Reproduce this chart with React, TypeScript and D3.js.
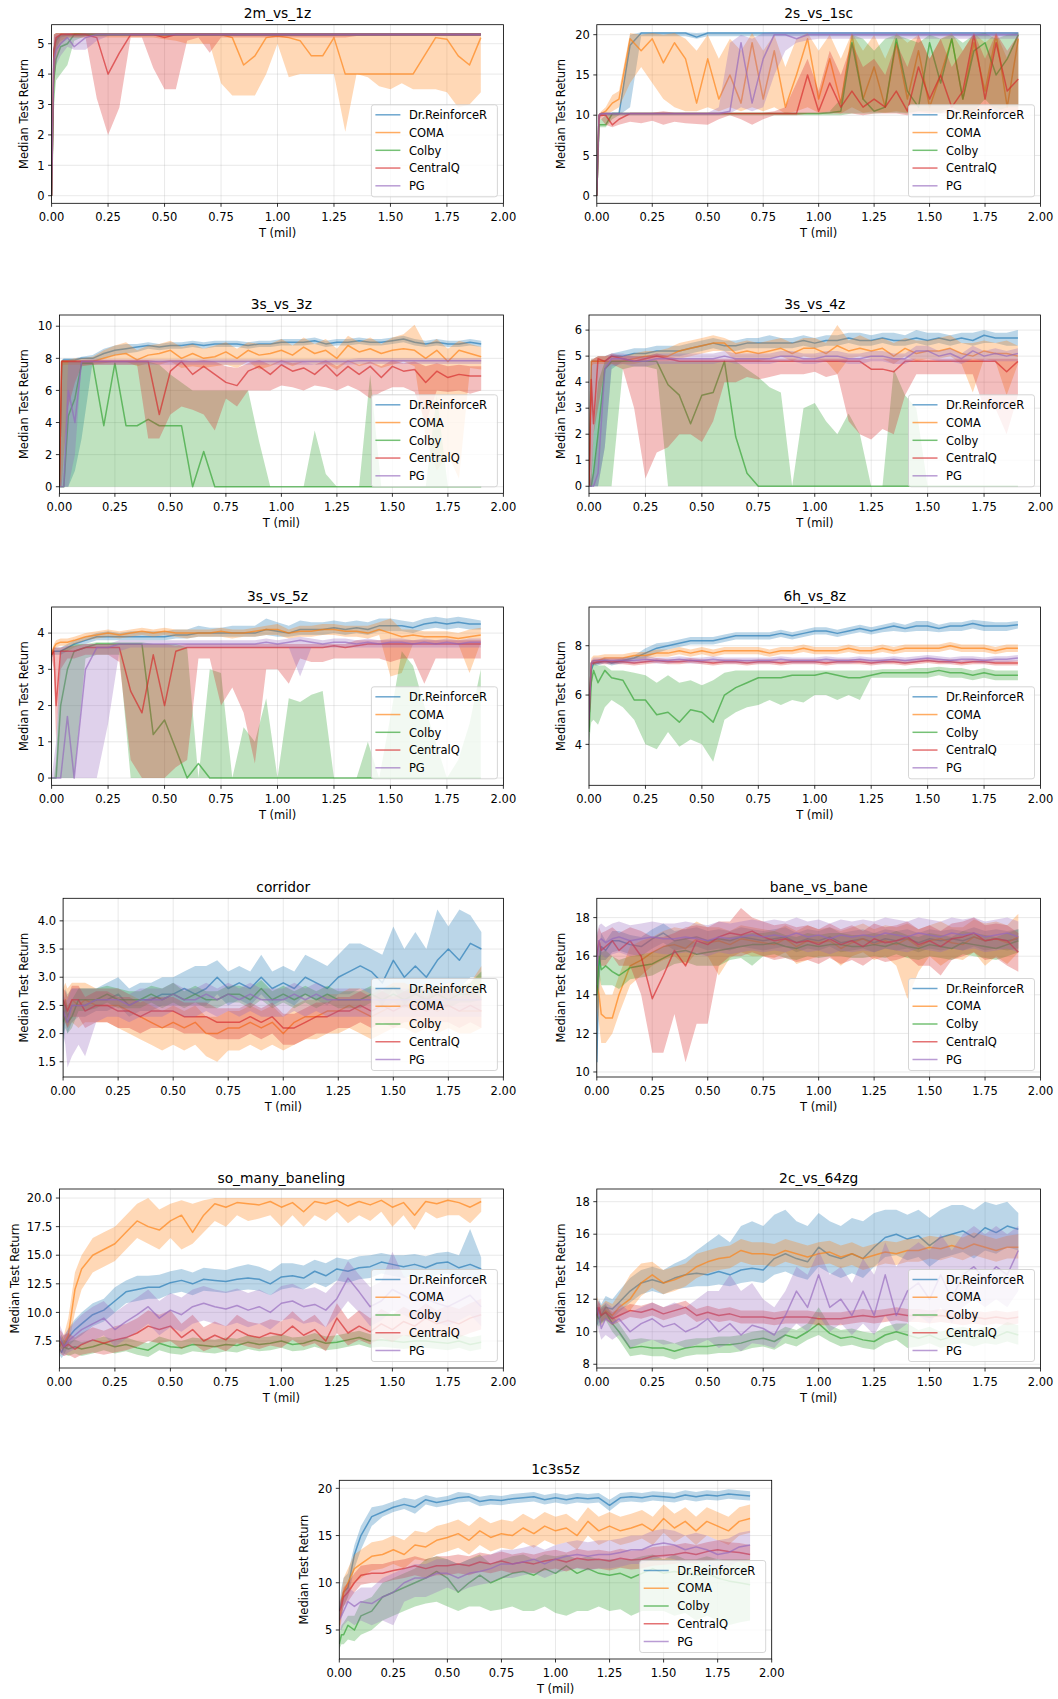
import React from 'react';
import * as d3 from 'd3';

// training steps (millions) at which medians / quantile bands were read
const T = [0, 0.01, 0.02, 0.04, 0.07, 0.1,
  0.15, 0.2, 0.25, 0.3, 0.35, 0.4, 0.45, 0.5, 0.55, 0.6, 0.65, 0.7,
  0.75, 0.8, 0.85, 0.9, 0.95, 1.0, 1.05, 1.1, 1.15, 1.2, 1.25, 1.3,
  1.35, 1.4, 1.45, 1.5, 1.55, 1.6, 1.65, 1.7, 1.75, 1.8, 1.85, 1.9];

const SERIES = ['Dr.ReinforceR', 'COMA', 'Colby', 'CentralQ', 'PG'];
const COLORS = ['#1f77b4', '#ff7f0e', '#2ca02c', '#d62728', '#9467bd'];
const X_TICKS = [0, 0.25, 0.5, 0.75, 1, 1.25, 1.5, 1.75, 2];

// ---------- 2m_vs_1z ----------
const P1_YTICKS = [0, 1, 2, 3, 4, 5];
const P1_MED = [
  [0, 4.8, 5.1, 5.3, 5.3, 5.3,
    5.3, 5.3, 5.3, 5.3, 5.3, 5.3, 5.3, 5.3, 5.3, 5.3, 5.3, 5.3,
    5.3, 5.3, 5.3, 5.3, 5.3, 5.3, 5.3, 5.3, 5.3, 5.3, 5.3, 5.3,
    5.3, 5.3, 5.3, 5.3, 5.3, 5.3, 5.3, 5.3, 5.3, 5.3, 5.3, 5.3],
  [0, 4.5, 5.2, 5.3, 5.3, 5.3,
    5.3, 5.3, 5.3, 5.3, 5.3, 5.3, 5.3, 5.25, 5.3, 5.3, 5.3, 5.3,
    5.3, 5.2, 4.3, 4.6, 5.2, 5.25, 5.2, 5.1, 4.6, 4.6, 5.2, 4.0,
    4.0, 4.0, 4.0, 4.0, 4.0, 4.0, 4.6, 5.2, 5.15, 4.6, 4.3, 5.2],
  [0, 3.8, 4.5, 4.9, 5.0, 5.3,
    5.3, 5.3, 5.3, 5.3, 5.3, 5.3, 5.3, 5.3, 5.3, 5.3, 5.3, 5.3,
    5.3, 5.3, 5.3, 5.3, 5.3, 5.3, 5.3, 5.3, 5.3, 5.3, 5.3, 5.3,
    5.3, 5.3, 5.3, 5.3, 5.3, 5.3, 5.3, 5.3, 5.3, 5.3, 5.3, 5.3],
  [0, 4.8, 5.2, 5.3, 5.3, 5.3,
    5.3, 5.2, 4.0, 4.7, 5.3, 5.3, 5.3, 5.2, 5.3, 5.3, 5.3, 5.3,
    5.3, 5.3, 5.3, 5.3, 5.3, 5.3, 5.3, 5.3, 5.3, 5.3, 5.3, 5.3,
    5.3, 5.3, 5.3, 5.3, 5.3, 5.3, 5.3, 5.3, 5.3, 5.3, 5.3, 5.3],
  [0, 4.5, 4.8, 5.0, 5.2, 4.9,
    5.2, 5.3, 5.3, 5.3, 5.3, 5.3, 5.3, 5.3, 5.3, 5.3, 5.3, 5.3,
    5.3, 5.3, 5.3, 5.3, 5.3, 5.3, 5.3, 5.3, 5.3, 5.3, 5.3, 5.3,
    5.3, 5.3, 5.3, 5.3, 5.3, 5.3, 5.3, 5.3, 5.3, 5.3, 5.3, 5.3],
];
const P1_LO = [
  [0, 3.8, 4.8, 5.2, 5.25, 5.25,
    5.25, 5.25, 5.25, 5.25, 5.25, 5.25, 5.25, 5.25, 5.25, 5.25, 5.25, 5.25,
    5.25, 5.25, 5.25, 5.25, 5.25, 5.25, 5.25, 5.25, 5.25, 5.25, 5.25, 5.25,
    5.25, 5.25, 5.25, 5.25, 5.25, 5.25, 5.25, 5.25, 5.25, 5.25, 5.25, 5.25],
  [0, 3.8, 4.9, 5.1, 5.2, 5.2,
    5.2, 5.2, 5.2, 5.2, 5.2, 5.2, 5.2, 5.15, 5.1, 5.0, 5.0, 5.0,
    3.7, 3.3, 3.3, 3.3, 4.0, 5.0, 3.9, 4.0, 4.0, 4.0, 4.0, 2.1,
    4.0, 3.9, 3.6, 3.5, 3.7, 3.5, 3.5, 3.5, 3.4, 2.9, 3.0, 3.4],
  [0, 3.0, 3.8, 4.0, 4.3, 5.1,
    5.25, 5.25, 5.25, 5.25, 5.25, 5.25, 5.25, 5.25, 5.25, 5.25, 5.25, 5.25,
    5.25, 5.25, 5.25, 5.25, 5.25, 5.25, 5.25, 5.25, 5.25, 5.25, 5.25, 5.25,
    5.25, 5.25, 5.25, 5.25, 5.25, 5.25, 5.25, 5.25, 5.25, 5.25, 5.25, 5.25],
  [0, 3.6, 4.5, 5.0, 5.2, 5.2,
    5.2, 3.2, 2.0, 2.9, 5.2, 5.2, 4.2, 3.5, 3.5, 5.1, 5.2, 4.7,
    5.2, 5.2, 5.2, 5.2, 5.2, 5.2, 5.2, 5.2, 5.2, 5.2, 5.2, 5.2,
    5.25, 5.25, 5.25, 5.25, 5.25, 5.25, 5.25, 5.25, 5.25, 5.25, 5.25, 5.25],
  [0, 3.8, 4.3, 4.6, 4.9, 4.8,
    4.8, 5.1, 5.25, 5.25, 5.25, 5.25, 5.25, 5.25, 5.25, 5.25, 5.25, 5.25,
    5.25, 5.25, 5.25, 5.25, 5.25, 5.25, 5.25, 5.25, 5.25, 5.25, 5.25, 5.25,
    5.25, 5.25, 5.25, 5.25, 5.25, 5.25, 5.25, 5.25, 5.25, 5.25, 5.25, 5.25],
];
const P1_HI = [
  [0, 5.3, 5.35, 5.35, 5.35, 5.35,
    5.35, 5.35, 5.35, 5.35, 5.35, 5.35, 5.35, 5.35, 5.35, 5.35, 5.35, 5.35,
    5.35, 5.35, 5.35, 5.35, 5.35, 5.35, 5.35, 5.35, 5.35, 5.35, 5.35, 5.35,
    5.35, 5.35, 5.35, 5.35, 5.35, 5.35, 5.35, 5.35, 5.35, 5.35, 5.35, 5.35],
  [0, 5.3, 5.35, 5.35, 5.35, 5.35,
    5.35, 5.35, 5.35, 5.35, 5.35, 5.35, 5.35, 5.35, 5.35, 5.35, 5.35, 5.35,
    5.35, 5.35, 5.35, 5.35, 5.35, 5.35, 5.35, 5.35, 5.35, 5.35, 5.35, 5.35,
    5.35, 5.35, 5.35, 5.35, 5.35, 5.35, 5.35, 5.35, 5.35, 5.35, 5.35, 5.35],
  [0, 5.0, 5.2, 5.3, 5.3, 5.35,
    5.35, 5.35, 5.35, 5.35, 5.35, 5.35, 5.35, 5.35, 5.35, 5.35, 5.35, 5.35,
    5.35, 5.35, 5.35, 5.35, 5.35, 5.35, 5.35, 5.35, 5.35, 5.35, 5.35, 5.35,
    5.35, 5.35, 5.35, 5.35, 5.35, 5.35, 5.35, 5.35, 5.35, 5.35, 5.35, 5.35],
  [0, 5.3, 5.35, 5.35, 5.35, 5.35,
    5.35, 5.35, 5.35, 5.35, 5.35, 5.35, 5.35, 5.35, 5.35, 5.35, 5.35, 5.35,
    5.35, 5.35, 5.35, 5.35, 5.35, 5.35, 5.35, 5.35, 5.35, 5.35, 5.35, 5.35,
    5.35, 5.35, 5.35, 5.35, 5.35, 5.35, 5.35, 5.35, 5.35, 5.35, 5.35, 5.35],
  [0, 5.2, 5.3, 5.3, 5.35, 5.3,
    5.35, 5.35, 5.35, 5.35, 5.35, 5.35, 5.35, 5.35, 5.35, 5.35, 5.35, 5.35,
    5.35, 5.35, 5.35, 5.35, 5.35, 5.35, 5.35, 5.35, 5.35, 5.35, 5.35, 5.35,
    5.35, 5.35, 5.35, 5.35, 5.35, 5.35, 5.35, 5.35, 5.35, 5.35, 5.35, 5.35],
];

// ---------- 2s_vs_1sc ----------
const P2_YTICKS = [0, 5, 10, 15, 20];
const P2_MED = [
  [0, 10, 10.2, 10.2, 10.2, 10.2,
    18.7, 20.2, 20.2, 20.2, 20.2, 20.2, 19.7, 20.2, 20.2, 20.2, 20.2, 20.2,
    20.2, 20.2, 20.2, 20.2, 20.2, 20.2, 20.2, 20.2, 20.2, 20.2, 20.2, 20.2,
    20.2, 20.2, 20.2, 20.2, 20.2, 20.2, 20.2, 20.2, 20.2, 20.2, 20.2, 20.2],
  [0, 10, 10.2, 10.5, 11.5, 12,
    19.5, 18, 19.5, 16.5, 19, 17, 11.5, 17, 12, 15, 11.5, 19,
    12, 18, 11, 15, 19.5, 12, 17, 11.5, 20, 12, 16, 11,
    19, 12, 18, 11, 15, 19.5, 12, 19, 13, 20, 11, 19.5],
  [0, 8.8, 8.8, 8.8, 10.2, 10.2,
    10.2, 10.2, 10.2, 10.2, 10.2, 10.2, 10.2, 10.2, 10.2, 10.2, 10.2, 10.2,
    10.2, 10.2, 10.2, 10.2, 10.2, 10.2, 10.3, 10.5, 19, 12, 10.5, 11,
    19.5, 13, 11, 19, 14, 19.5, 12, 18, 19, 15, 17, 20],
  [0, 10, 10, 10, 8.8, 9.5,
    10.2, 10.2, 10.2, 10.2, 10.2, 10.2, 10.2, 10.2, 10.2, 10.2, 10.2, 10.2,
    10.2, 10.2, 10.2, 10.2, 15, 10.5, 14, 11, 13, 11, 12, 11,
    13, 10.5, 16, 12, 15, 11, 13, 20, 12, 19, 13, 14.5],
  [0, 10, 10.2, 10.2, 10.2, 10.2,
    10.2, 10.2, 10.2, 10.2, 10.2, 10.2, 10.2, 10.2, 10.2, 10.5, 19, 11.5,
    17, 20, 20, 19.5, 20, 20, 20, 20, 20, 20, 20, 20,
    20, 20, 20, 20, 20, 20, 20, 20, 20, 20, 20, 20],
];
const P2_LO = [
  [0, 9.5, 10, 10, 10, 10,
    11, 19.8, 19.8, 19.8, 19.8, 19.8, 19.5, 19.8, 19.8, 19.8, 19.8, 19.8,
    19.8, 19.8, 19.8, 19.8, 19.8, 19.8, 19.8, 19.8, 19.8, 19.8, 19.8, 19.8,
    19.8, 19.8, 19.8, 19.8, 19.8, 19.8, 19.8, 19.8, 19.8, 19.8, 19.8, 19.8],
  [0, 9.5, 9.8, 10, 10.5, 11,
    14, 16, 14, 12, 11, 10.5, 10.5, 11, 10.5, 11, 10.5, 11,
    10.5, 11, 10.2, 10.5, 11, 10.3, 10.5, 10.2, 11, 10.3, 10.5, 10.3,
    10.5, 10.3, 10.5, 10.2, 10.5, 11, 10.3, 10.5, 10.5, 11, 10.3, 10.5],
  [0, 8.5, 8.5, 8.5, 9.5, 10,
    10, 10, 10, 10, 10, 10, 10, 10, 10, 10, 10, 10,
    10, 10, 10, 10, 10, 10, 10, 10, 10.2, 10.2, 10.2, 10.3,
    10.3, 10.2, 10.5, 10.5, 10.2, 11, 10.3, 10.5, 12, 10.5, 11, 11],
  [0, 9.5, 9.5, 8.8, 8.5, 8.8,
    9.2, 9.0, 9.3, 8.8, 9.2, 9.0, 8.9, 8.8, 9.5, 10.0, 9.5, 8.8,
    9.5, 10, 10, 10, 10.2, 10.2, 10.2, 10.2, 10.2, 10, 10.2, 10.2,
    10.2, 10, 10.2, 10.2, 10.2, 10.2, 10.2, 10.3, 10.5, 10.5, 10.2, 10.5],
  [0, 9.5, 10, 10, 10, 10,
    10, 10, 10, 10, 10, 10, 10, 10, 10, 10.2, 11, 10.5,
    11, 15, 18, 19, 19.3, 19.5, 19.5, 19.5, 19.5, 19.5, 19.5, 19.5,
    19.5, 19.5, 19.5, 19.5, 19.5, 19.5, 19.5, 19.5, 19.5, 19.5, 19.5, 19.5],
];
const P2_HI = [
  [0, 10.2, 10.3, 10.3, 10.3, 10.3,
    20, 20.3, 20.3, 20.3, 20.3, 20.3, 20.2, 20.3, 20.3, 20.3, 20.3, 20.3,
    20.3, 20.3, 20.3, 20.3, 20.3, 20.3, 20.3, 20.3, 20.3, 20.3, 20.3, 20.3,
    20.3, 20.3, 20.3, 20.3, 20.3, 20.3, 20.3, 20.3, 20.3, 20.3, 20.3, 20.3],
  [0, 10.2, 10.5, 11, 12.5, 13,
    20.2, 20, 20.2, 20, 20.2, 19.5, 18, 20, 17, 19.5, 18, 20.2,
    18, 20, 16, 19.5, 20.2, 18, 20, 17, 20.2, 18, 20, 17,
    20.2, 19, 20, 17, 19.5, 20.2, 18, 20.2, 19, 20.2, 17, 20.2],
  [0, 9.5, 9.5, 10, 10.3, 10.3,
    10.3, 10.3, 10.3, 10.3, 10.3, 10.3, 10.3, 10.3, 10.3, 10.3, 10.3, 10.3,
    10.3, 10.3, 10.3, 10.3, 10.3, 10.3, 10.5, 12, 20, 19.5, 18, 19.5,
    20, 19.5, 19, 20, 19.5, 20, 19, 20, 20.2, 19.5, 20, 20.2],
  [0, 10.2, 10.3, 10.3, 10.2, 10.3,
    10.3, 10.3, 10.3, 10.5, 10.3, 10.3, 10.3, 10.3, 10.3, 10.3, 10.3, 10.3,
    10.3, 10.5, 11, 14, 17, 13, 18, 15, 19, 16, 17, 15,
    19, 16, 20, 17, 19.5, 16, 18, 20.2, 17, 20.2, 18, 20],
  [0, 10.2, 10.3, 10.3, 10.3, 10.3,
    10.3, 10.3, 10.3, 10.3, 10.3, 10.3, 10.3, 10.3, 11, 19, 20, 19.5,
    20.2, 20.3, 20.3, 20.3, 20.3, 20.3, 20.3, 20.3, 20.3, 20.3, 20.3, 20.3,
    20.3, 20.3, 20.3, 20.3, 20.3, 20.3, 20.3, 20.3, 20.3, 20.3, 20.3, 20.3],
];

// ---------- 3s_vs_3z ----------
const P3_YTICKS = [0, 2, 4, 6, 8, 10];
const P3_MED = [
  [0, 7.8, 7.9, 7.9, 7.9, 8.0,
    8.0, 8.3, 8.5, 8.6, 8.7, 8.8, 8.7, 8.8, 8.8, 8.9, 8.8, 8.9,
    8.9, 8.9, 8.8, 8.9, 8.9, 9.0, 9.0, 9.0, 9.1, 8.9, 9.0, 9.0,
    9.1, 9.0, 9.0, 9.1, 9.2, 9.0, 8.9, 9.0, 8.9, 8.9, 9.0, 8.9],
  [0, 7.8, 7.8, 7.8, 7.8, 7.8,
    7.8, 8.0, 8.2, 8.3, 7.9, 8.2, 8.3, 8.5, 8.0, 8.3, 8.0, 8.1,
    8.4, 8.0, 8.5, 8.2, 8.3, 8.5, 8.2, 8.7, 8.3, 8.5, 8.0, 8.8,
    8.4, 8.6, 8.3, 8.5, 8.6, 8.5, 8.0, 8.5, 7.8, 8.5, 8.3, 8.1],
  [0, 0, 0, 4.4, 5.5, 7.7,
    7.7, 3.8, 7.7, 3.8, 3.8, 4.2, 3.8, 3.8, 3.8, 0, 2.2, 0,
    0, 0, 0, 0, 0, 0, 0, 0, 0, 0, 0, 0,
    0, 0, 0, 0, 0, 0, 0, 0, 0, 0, 0, 0],
  [0, 7.8, 7.8, 7.8, 7.8, 7.8,
    7.8, 7.8, 7.8, 7.8, 7.8, 7.8, 4.5, 7.2, 7.8, 7.0, 7.5, 7.0,
    6.5, 6.3, 7.2, 7.5, 7.0, 7.6, 7.2, 7.4, 7.0, 7.6, 6.9, 7.5,
    7.0, 7.5, 6.8, 7.5, 7.2, 7.3, 6.5, 7.2, 6.8, 7.0, 6.9, 6.9],
  [0, 0, 0, 6.0, 4.0, 7.8,
    7.8, 7.8, 7.8, 7.8, 7.8, 7.8, 7.8, 7.8, 7.8, 7.8, 7.8, 7.8,
    7.8, 7.8, 7.8, 7.8, 7.8, 7.8, 7.8, 7.8, 7.8, 7.8, 7.8, 7.8,
    7.85, 7.85, 7.85, 7.85, 7.85, 7.85, 7.85, 7.85, 7.85, 7.85, 7.85, 7.85],
];
const P3_LO = [
  [0, 0, 0, 0, 1, 3,
    7.8, 8.0, 8.2, 8.3, 8.4, 8.6, 8.5, 8.6, 8.6, 8.7, 8.6, 8.7,
    8.7, 8.7, 8.6, 8.7, 8.7, 8.8, 8.8, 8.8, 8.9, 8.7, 8.8, 8.8,
    8.9, 8.8, 8.8, 8.9, 9.0, 8.8, 8.7, 8.8, 8.7, 8.7, 8.8, 8.7],
  [0, 7.5, 7.6, 7.6, 7.6, 7.6,
    7.6, 7.7, 7.8, 7.8, 7.5, 7.7, 7.6, 7.8, 7.4, 7.5, 7.4, 7.5,
    7.6, 7.4, 7.8, 7.3, 7.5, 7.8, 7.5, 7.8, 7.6, 7.7, 7.3, 7.8,
    7.5, 7.7, 7.4, 7.6, 7.8, 7.5, 3.0, 1.0, 2.0, 0.5, 7.4, 7.3],
  [0, 0, 0, 0, 0, 0,
    0, 0, 0, 0, 0, 0, 0, 0, 0, 0, 0, 0,
    0, 0, 0, 0, 0, 0, 0, 0, 0, 0, 0, 0,
    0, 0, 0, 0, 0, 0, 0, 0, 0, 0, 0, 0],
  [0, 0, 2, 5, 6.5, 7.5,
    7.6, 7.6, 7.6, 7.6, 7.6, 3.0, 3.0, 4.5, 5.0, 4.8, 4.5, 3.5,
    5.5, 5.0, 6.0, 6.0, 6.0, 6.3, 6.2, 6.0, 6.3, 6.2, 6.0, 6.3,
    6.0, 5.5, 5.9, 6.2, 6.2, 5.9, 4.0, 6.0, 5.9, 6.0, 5.8, 6.0],
  [0, 0, 0, 0, 2, 7.6,
    7.6, 7.6, 7.6, 7.6, 7.6, 7.6, 7.6, 7.6, 7.6, 7.6, 7.6, 7.6,
    7.6, 7.6, 7.6, 7.6, 7.6, 7.6, 7.6, 7.6, 7.6, 7.6, 7.6, 7.6,
    7.65, 7.65, 7.65, 7.65, 7.65, 7.65, 7.65, 7.65, 7.65, 7.65, 7.65, 7.65],
];
const P3_HI = [
  [0, 7.9, 8.0, 8.0, 8.0, 8.1,
    8.2, 8.6, 8.8, 8.9, 8.9, 9.0, 8.9, 9.0, 9.0, 9.1, 9.0, 9.1,
    9.1, 9.1, 9.0, 9.1, 9.1, 9.2, 9.2, 9.2, 9.3, 9.1, 9.2, 9.2,
    9.3, 9.2, 9.2, 9.3, 9.4, 9.2, 9.1, 9.2, 9.1, 9.1, 9.2, 9.1],
  [0, 7.9, 7.9, 7.9, 8.0, 8.0,
    8.1, 8.5, 8.8, 9.0, 8.5, 8.8, 8.9, 9.1, 8.7, 8.9, 8.6, 8.8,
    9.0, 8.6, 9.0, 8.9, 8.9, 9.2, 8.8, 9.3, 8.9, 9.2, 8.6, 9.4,
    9.0, 9.3, 8.9, 9.3, 9.5, 10.1, 8.8, 9.2, 8.6, 9.1, 8.9, 8.7],
  [0, 7.8, 7.8, 7.8, 7.8, 7.8,
    7.8, 7.8, 7.8, 7.8, 7.8, 7.8, 7.6, 7.0, 6.5, 6.0, 6.0, 6.0,
    6.0, 6.0, 6.0, 2.8, 0, 0, 0, 0, 3.5, 0.8, 0, 0,
    0, 7.0, 0, 0, 0, 0, 0, 5.7, 0, 0, 0, 0],
  [0, 7.9, 7.9, 7.9, 7.9, 7.9,
    7.9, 7.9, 7.9, 7.9, 7.9, 7.9, 7.8, 7.9, 7.9, 7.8, 7.9, 7.8,
    7.5, 7.4, 7.7, 7.9, 7.6, 7.9, 7.7, 7.8, 7.6, 7.9, 7.5, 7.9,
    7.6, 7.8, 7.5, 7.9, 7.7, 7.8, 7.5, 7.7, 7.5, 7.6, 7.5, 7.5],
  [0, 0.5, 2, 7.8, 7.8, 7.9,
    7.95, 7.95, 7.95, 7.95, 7.95, 7.95, 7.95, 7.95, 7.95, 7.95, 7.95, 7.95,
    7.95, 7.95, 7.95, 7.95, 7.95, 7.95, 7.95, 7.95, 7.95, 7.95, 7.95, 7.95,
    8.0, 8.0, 8.0, 8.0, 8.0, 8.0, 8.0, 8.0, 8.0, 8.0, 8.0, 8.0],
];

// ---------- 3s_vs_4z ----------
const P4_YTICKS = [0, 1, 2, 3, 4, 5, 6];
const P4_MED = [
  [0, 4.8, 4.8, 4.8, 4.8, 5.0,
    5.0, 5.1, 5.1, 5.2, 5.2, 5.2, 5.3, 5.4, 5.5, 5.4, 5.4, 5.5,
    5.5, 5.5, 5.5, 5.5, 5.6, 5.5, 5.6, 5.6, 5.7, 5.6, 5.6, 5.7,
    5.6, 5.6, 5.7, 5.6, 5.7, 5.6, 5.7, 5.6, 5.8, 5.7, 5.7, 5.7],
  [0, 4.8, 4.8, 4.8, 4.8, 4.8,
    4.8, 4.9, 5.0, 5.0, 5.0, 5.2, 5.3, 5.4, 5.5, 5.5, 5.1, 5.2,
    5.1, 5.2, 5.3, 5.1, 5.3, 5.3, 5.1, 5.4, 5.2, 5.3, 5.2, 5.3,
    5.0, 5.3, 5.1, 5.2, 5.2, 5.3, 5.1, 5.0, 5.2, 5.1, 5.1, 5.0],
  [0, 0, 0.5, 2.0, 4.5, 4.8,
    4.8, 4.8, 4.8, 4.8, 3.9, 3.5, 2.4, 3.5, 3.6, 4.8, 1.9, 0.5,
    0, 0, 0, 0, 0, 0, 0, 0, 0, 0, 0, 0,
    0, 0, 0, 0, 0, 0, 0, 0, 0, 0, 0, 0],
  [0, 4.1, 2.4, 4.9, 4.8, 5.0,
    4.9, 4.8, 4.9, 5.0, 4.9, 4.8, 4.8, 4.8, 4.8, 4.8, 4.8, 4.8,
    4.8, 4.8, 4.8, 4.8, 4.8, 4.8, 4.8, 4.8, 4.8, 4.8, 4.5, 4.5,
    4.4, 4.8, 4.8, 4.8, 4.8, 4.8, 4.8, 4.8, 4.8, 4.8, 4.4, 4.8],
  [0, 0, 0, 0.5, 4.5, 4.9,
    4.9, 4.8, 4.8, 4.9, 4.9, 4.9, 4.9, 4.9, 4.9, 5.0, 4.9, 4.9,
    4.9, 4.9, 5.0, 5.0, 4.9, 4.9, 5.0, 5.0, 4.9, 4.9, 5.0, 5.0,
    4.9, 4.9, 5.2, 5.2, 5.0, 5.1, 4.9, 5.2, 5.0, 5.1, 5.0, 5.1],
];
const P4_LO = [
  [0, 0, 0, 0, 1.5, 4.5,
    4.8, 4.9, 4.9, 5.0, 5.0, 5.0, 5.1, 5.2, 5.3, 5.2, 5.2, 5.3,
    5.3, 5.3, 5.3, 5.3, 5.4, 5.3, 5.4, 5.4, 5.5, 5.4, 5.4, 5.5,
    5.4, 5.4, 5.5, 5.4, 5.5, 5.4, 5.5, 5.4, 5.5, 5.5, 5.4, 5.4],
  [0, 4.6, 4.7, 4.7, 4.7, 4.7,
    4.7, 4.7, 4.8, 4.8, 4.8, 4.9, 5.0, 5.1, 5.2, 5.2, 4.8, 4.8,
    4.8, 4.9, 5.0, 4.8, 5.0, 4.9, 4.8, 4.3, 4.9, 5.0, 4.9, 4.9,
    4.7, 5.0, 4.8, 4.9, 4.9, 5.0, 4.7, 3.6, 4.9, 4.8, 3.5, 4.7],
  [0, 0, 0, 0, 0, 0,
    4.5, 4.6, 4.6, 4.5, 0, 0, 0, 0, 0, 0, 0, 0,
    0, 0, 0, 0, 0, 0, 0, 0, 0, 0, 0, 0,
    0, 0, 0, 0, 0, 0, 0, 0, 0, 0, 0, 0],
  [0, 0, 2.0, 3.0, 4.5, 4.7,
    4.5, 3.0, 0.3, 1.3, 1.5, 2.0, 2.0, 1.7, 2.5, 4.0, 4.0, 4.2,
    4.1, 4.2, 4.3, 4.3, 4.3, 4.4, 4.2, 4.3, 2.5, 2.0, 1.8, 2.2,
    2.0, 3.5, 4.3, 4.3, 4.3, 4.3, 4.3, 4.3, 3.0, 3.0, 2.0, 3.5],
  [0, 0, 0, 0, 1.5, 4.6,
    4.7, 4.6, 4.6, 4.7, 4.7, 4.7, 4.7, 4.7, 4.7, 4.8, 4.7, 4.7,
    4.7, 4.7, 4.8, 4.8, 4.7, 4.7, 4.8, 4.8, 4.7, 4.7, 4.8, 4.8,
    4.7, 4.7, 4.9, 4.9, 4.8, 4.8, 4.7, 4.9, 4.8, 4.8, 4.8, 4.8],
];
const P4_HI = [
  [0, 4.9, 4.9, 5.0, 5.0, 5.1,
    5.2, 5.3, 5.3, 5.4, 5.4, 5.4, 5.5, 5.6, 5.7, 5.6, 5.6, 5.7,
    5.7, 5.8, 5.7, 5.7, 5.8, 5.7, 5.8, 5.8, 5.9, 5.9, 5.8, 5.9,
    5.9, 5.8, 6.0, 5.9, 5.9, 5.8, 5.9, 5.9, 6.0, 5.9, 5.9, 6.0],
  [0, 4.9, 4.9, 5.0, 5.0, 5.0,
    5.0, 5.1, 5.2, 5.2, 5.3, 5.5, 5.6, 5.7, 5.8, 5.7, 5.5, 5.6,
    5.5, 5.6, 5.7, 5.5, 5.7, 5.7, 5.5, 6.2, 5.6, 5.8, 5.6, 5.7,
    5.5, 5.7, 5.6, 5.6, 5.7, 5.8, 5.5, 5.5, 5.6, 5.5, 5.6, 5.4],
  [0, 0.5, 2, 4.0, 4.8, 4.8,
    4.8, 4.8, 4.8, 4.8, 4.8, 4.8, 4.8, 4.8, 4.8, 4.8, 4.8, 4.5,
    4.2, 3.8, 3.6, 0, 3.0, 3.2, 2.5, 2.0, 2.8, 2.0, 0, 0,
    4.5, 3.5, 3.0, 0, 0, 0, 0, 0, 0, 0, 0, 0],
  [0, 4.8, 4.9, 5.0, 5.0, 5.1,
    5.0, 5.0, 5.0, 5.1, 5.0, 4.9, 4.9, 4.9, 4.9, 4.9, 4.9, 4.9,
    4.9, 4.9, 4.9, 4.9, 4.9, 4.9, 4.9, 4.9, 4.9, 4.9, 4.9, 4.9,
    4.9, 4.9, 4.9, 4.9, 4.9, 4.9, 4.9, 4.9, 4.9, 4.9, 4.9, 4.9],
  [0, 0.3, 0.5, 2.0, 4.8, 5.1,
    5.1, 5.0, 5.0, 5.1, 5.1, 5.1, 5.1, 5.1, 5.1, 5.2, 5.1, 5.1,
    5.1, 5.1, 5.2, 5.2, 5.1, 5.1, 5.2, 5.2, 5.1, 5.1, 5.2, 5.2,
    5.1, 5.1, 5.4, 5.4, 5.2, 5.3, 5.1, 5.4, 5.2, 5.3, 5.2, 5.3],
];

// ---------- 3s_vs_5z ----------
const P5_YTICKS = [0, 1, 2, 3, 4];
const P5_MED = [
  [3.4, 3.5, 3.5, 3.5, 3.6, 3.7,
    3.8, 3.9, 3.9, 3.9, 3.9, 3.9, 3.9, 3.9, 3.95, 3.95, 4.0, 4.0,
    4.0, 4.0, 4.0, 4.0, 4.1, 4.05, 4.0, 4.1, 4.1, 4.1, 4.15, 4.1,
    4.15, 4.1, 4.2, 4.2, 4.2, 4.15, 4.25, 4.3, 4.25, 4.3, 4.25, 4.25],
  [3.4, 3.6, 3.7, 3.75, 3.75, 3.8,
    3.9, 3.95, 4.0, 3.95, 4.0, 4.05, 4.0, 4.05, 4.0, 4.0, 4.0, 4.0,
    4.05, 4.0, 4.0, 4.05, 4.1, 4.1, 4.0, 4.05, 4.05, 4.1, 4.1, 4.05,
    4.05, 4.0, 4.1, 4.0, 3.9, 3.95, 3.9, 3.9, 3.9, 3.85, 3.9, 3.95],
  [0, 0, 0, 2.0, 3.0, 3.5,
    3.6, 3.7, 3.7, 3.7, 3.7, 3.7, 1.2, 1.6, 0.8, 0, 0.4, 0,
    0, 0, 0, 0, 0, 0, 0, 0, 0, 0, 0, 0,
    0, 0, 0, 0, 0, 0, 0, 0, 0, 0, 0, 0],
  [3.4, 3.5, 2.0, 3.5, 3.5, 3.5,
    3.6, 3.6, 3.6, 3.6, 2.4, 1.8, 3.4, 2.0, 3.5, 3.6, 3.6, 3.6,
    3.6, 3.6, 3.6, 3.6, 3.6, 3.6, 3.6, 3.6, 3.6, 3.6, 3.65, 3.6,
    3.65, 3.7, 3.7, 3.7, 3.7, 3.7, 3.7, 3.7, 3.7, 3.7, 3.7, 3.7],
  [0, 0, 0, 0, 1.7, 0,
    3.0, 3.6, 3.6, 3.7, 3.7, 3.7, 3.7, 3.7, 3.7, 3.7, 3.7, 3.7,
    3.7, 3.7, 3.7, 3.7, 3.75, 3.7, 3.75, 3.8, 3.75, 3.7, 3.75, 3.75,
    3.7, 3.75, 3.7, 3.75, 3.75, 3.7, 3.75, 3.7, 3.75, 3.7, 3.75, 3.75],
];
const P5_LO = [
  [3.3, 3.4, 3.4, 3.4, 3.5, 3.6,
    3.7, 3.8, 3.8, 3.8, 3.8, 3.8, 3.8, 3.8, 3.85, 3.85, 3.9, 3.9,
    3.9, 3.9, 3.9, 3.9, 3.95, 3.9, 3.9, 3.95, 3.95, 3.95, 4.0, 3.95,
    4.0, 3.95, 4.05, 4.05, 4.05, 4.0, 4.1, 4.15, 4.1, 4.15, 4.1, 4.1],
  [3.3, 3.5, 3.6, 3.65, 3.65, 3.7,
    3.8, 3.85, 3.9, 3.85, 3.9, 3.95, 3.9, 3.95, 3.9, 3.85, 3.9, 3.9,
    3.9, 3.85, 3.9, 3.9, 3.95, 3.95, 3.85, 3.9, 3.9, 3.95, 3.95, 3.9,
    3.9, 3.85, 3.95, 2.8, 2.9, 3.7, 3.75, 3.7, 3.75, 3.7, 2.9, 3.75],
  [0, 0, 0, 0, 0, 0,
    3.3, 3.4, 3.4, 3.4, 0, 0, 0, 0, 0, 0, 0, 0,
    0, 0, 0, 0, 0, 0, 0, 0, 0, 0, 0, 0,
    0, 0, 0, 0, 0, 0, 0, 0, 0, 0, 0, 0],
  [3.3, 3.0, 1.0, 3.0, 3.3, 3.3,
    3.4, 3.4, 3.4, 3.2, 0.5, 0, 0, 0, 0.3, 0.5, 3.3, 3.3,
    2.0, 2.5, 1.8, 0.4, 3.0, 3.0, 2.6, 3.3, 3.2, 3.2, 3.3, 3.3,
    3.3, 3.3, 3.3, 3.2, 3.3, 3.3, 2.6, 3.3, 3.3, 3.3, 3.3, 3.3],
  [0, 0, 0, 0, 0, 0,
    0, 0, 1.5, 3.5, 3.6, 3.6, 3.6, 3.6, 3.6, 3.6, 3.6, 3.6,
    3.6, 3.6, 3.6, 3.6, 3.6, 3.6, 3.6, 2.8, 3.6, 3.6, 3.6, 3.6,
    3.6, 3.6, 3.6, 3.6, 3.6, 3.6, 3.6, 3.6, 3.6, 3.6, 3.6, 3.6],
];
const P5_HI = [
  [3.5, 3.6, 3.6, 3.6, 3.7, 3.8,
    3.9, 4.0, 4.05, 4.0, 4.05, 4.05, 4.05, 4.05, 4.1, 4.1, 4.2, 4.15,
    4.15, 4.2, 4.2, 4.2, 4.4, 4.3, 4.2, 4.35, 4.3, 4.3, 4.35, 4.3,
    4.35, 4.3, 4.4, 4.4, 4.35, 4.3, 4.4, 4.45, 4.4, 4.45, 4.4, 4.35],
  [3.5, 3.7, 3.8, 3.85, 3.85, 3.9,
    4.0, 4.05, 4.1, 4.05, 4.1, 4.15, 4.1, 4.15, 4.1, 4.1, 4.1, 4.1,
    4.15, 4.1, 4.1, 4.15, 4.2, 4.25, 4.1, 4.2, 4.2, 4.25, 4.25, 4.2,
    4.2, 4.2, 4.3, 4.4, 4.1, 4.1, 4.05, 4.05, 4.05, 4.0, 4.1, 4.15],
  [0, 0, 0.5, 3.5, 3.6, 3.7,
    3.7, 3.75, 3.75, 3.75, 3.75, 3.75, 3.7, 3.7, 3.7, 3.6, 0, 3.0,
    2.9, 0, 1.4, 1.0, 2.2, 0, 2.2, 2.1, 2.3, 2.4, 0, 0,
    0, 1.0, 0, 1.7, 3.5, 3.1, 2.0, 1.0, 0, 0.5, 1.5, 3.0],
  [3.5, 3.6, 3.6, 3.6, 3.65, 3.65,
    3.7, 3.7, 3.7, 3.7, 3.7, 3.7, 3.7, 3.7, 3.65, 3.7, 3.7, 3.7,
    3.7, 3.7, 3.7, 3.7, 3.7, 3.7, 3.7, 3.7, 3.7, 3.7, 3.7, 3.7,
    3.8, 3.8, 3.8, 3.8, 3.8, 3.8, 3.8, 3.8, 3.8, 3.8, 3.8, 3.8],
  [0, 0.5, 1.0, 3.5, 3.5, 3.6,
    3.7, 3.7, 3.7, 3.8, 3.8, 3.8, 3.8, 3.8, 3.8, 3.8, 3.8, 3.8,
    3.8, 3.8, 3.8, 3.8, 3.85, 3.8, 3.85, 3.9, 3.85, 3.8, 3.85, 3.85,
    3.8, 3.85, 3.8, 3.85, 3.85, 3.8, 3.85, 3.8, 3.85, 3.8, 3.85, 3.85],
];

// ---------- 6h_vs_8z ----------
const P6_YTICKS = [4, 6, 8];
const P6_MED = [
  [5.0, 7.0, 7.3, 7.3, 7.4, 7.3,
    7.4, 7.5, 7.7, 7.9, 8.0, 8.1, 8.2, 8.2, 8.2, 8.3, 8.4, 8.4,
    8.4, 8.4, 8.5, 8.4, 8.5, 8.6, 8.6, 8.5, 8.6, 8.7, 8.6, 8.7,
    8.8, 8.7, 8.8, 8.8, 8.7, 8.8, 8.8, 8.9, 8.8, 8.8, 8.8, 8.85],
  [5.0, 7.3, 7.4, 7.4, 7.5, 7.5,
    7.5, 7.6, 7.6, 7.7, 7.7, 7.8, 7.7, 7.8, 7.7, 7.8, 7.8, 7.8,
    7.8, 7.7, 7.8, 7.8, 7.9, 7.8, 7.8, 7.8, 7.9, 7.8, 7.8, 7.9,
    7.8, 7.9, 7.9, 7.9, 7.9, 8.0, 7.9, 7.9, 7.9, 7.8, 7.9, 7.9],
  [4.5, 6.5, 7.0, 6.5, 7.0, 6.7,
    6.6, 5.8, 5.8, 5.2, 5.3, 4.9, 5.4, 5.3, 4.9, 6.0, 6.3, 6.5,
    6.7, 6.7, 6.7, 6.8, 6.8, 6.8, 6.9, 6.8, 6.7, 6.7, 6.8, 6.9,
    6.9, 6.9, 6.9, 6.9, 7.0, 6.9, 6.9, 6.8, 6.9, 6.8, 6.8, 6.8],
  [5.0, 7.3, 7.3, 7.35, 7.35, 7.35,
    7.35, 7.3, 7.35, 7.4, 7.35, 7.35, 7.4, 7.35, 7.3, 7.35, 7.35, 7.3,
    7.35, 7.35, 7.3, 7.35, 7.35, 7.35, 7.3, 7.35, 7.35, 7.35, 7.3, 7.35,
    7.35, 7.3, 7.35, 7.4, 7.35, 7.35, 7.3, 7.35, 7.35, 7.3, 7.3, 7.3],
  [5.0, 7.3, 7.4, 7.4, 7.4, 7.4,
    7.4, 7.4, 7.45, 7.4, 7.4, 7.45, 7.4, 7.4, 7.45, 7.4, 7.4, 7.4,
    7.4, 7.4, 7.45, 7.4, 7.4, 7.4, 7.45, 7.4, 7.4, 7.45, 7.4, 7.4,
    7.45, 7.4, 7.45, 7.5, 7.45, 7.4, 7.45, 7.45, 7.4, 7.45, 7.45, 7.5],
];
const P6_LO = [
  [4.6, 6.8, 7.2, 7.2, 7.3, 7.2,
    7.3, 7.4, 7.5, 7.7, 7.85, 7.95, 8.05, 8.05, 8.05, 8.15, 8.25, 8.25,
    8.25, 8.25, 8.35, 8.25, 8.35, 8.45, 8.45, 8.35, 8.45, 8.55, 8.45, 8.55,
    8.6, 8.55, 8.6, 8.6, 8.55, 8.6, 8.6, 8.7, 8.6, 8.6, 8.6, 8.7],
  [4.6, 7.2, 7.3, 7.3, 7.35, 7.35,
    7.35, 7.45, 7.45, 7.55, 7.55, 7.65, 7.55, 7.65, 7.55, 7.65, 7.65, 7.65,
    7.65, 7.55, 7.65, 7.65, 7.75, 7.65, 7.65, 7.65, 7.75, 7.65, 7.65, 7.75,
    7.65, 7.75, 7.75, 7.75, 7.75, 7.85, 7.75, 7.75, 7.75, 7.65, 7.75, 7.75],
  [4.0, 4.9, 5.0, 4.8, 5.5, 5.8,
    5.5, 5.0, 4.0, 3.8, 4.5, 3.9, 4.2, 4.0, 3.3, 5.0, 5.3, 5.5,
    5.6, 5.8, 5.6, 5.8, 5.7, 6.0, 6.0, 5.8, 6.0, 5.8, 6.7, 6.7,
    6.7, 6.7, 6.7, 6.7, 6.8, 6.7, 6.7, 6.6, 6.7, 6.6, 6.6, 6.6],
  [4.6, 7.2, 7.22, 7.25, 7.25, 7.25,
    7.25, 7.2, 7.25, 7.3, 7.25, 7.25, 7.3, 7.25, 7.2, 7.25, 7.25, 7.2,
    7.25, 7.25, 7.2, 7.25, 7.25, 7.25, 7.2, 7.25, 7.25, 7.25, 7.2, 7.25,
    7.25, 7.2, 7.25, 7.3, 7.25, 7.25, 7.2, 7.25, 7.25, 7.2, 7.2, 7.2],
  [4.6, 7.2, 7.28, 7.28, 7.28, 7.28,
    7.28, 7.28, 7.33, 7.28, 7.28, 7.33, 7.28, 7.28, 7.33, 7.28, 7.28, 7.28,
    7.28, 7.28, 7.33, 7.28, 7.28, 7.28, 7.33, 7.28, 7.28, 7.33, 7.28, 7.28,
    7.33, 7.28, 7.33, 7.38, 7.33, 7.28, 7.33, 7.33, 7.28, 7.33, 7.33, 7.38],
];
const P6_HI = [
  [5.4, 7.2, 7.4, 7.4, 7.5, 7.4,
    7.5, 7.6, 7.9, 8.1, 8.15, 8.25, 8.35, 8.35, 8.35, 8.45, 8.55, 8.55,
    8.55, 8.55, 8.65, 8.55, 8.65, 8.75, 8.75, 8.65, 8.75, 8.85, 8.75, 8.85,
    8.95, 8.85, 9.0, 9.0, 8.85, 8.95, 8.95, 9.05, 9.0, 8.95, 8.95, 9.0],
  [5.4, 7.5, 7.6, 7.6, 7.65, 7.65,
    7.65, 7.75, 7.75, 7.85, 7.85, 7.95, 7.85, 7.95, 7.85, 7.95, 7.95, 7.95,
    7.95, 7.85, 7.95, 7.95, 8.05, 7.95, 7.95, 7.95, 8.05, 7.95, 7.95, 8.05,
    7.95, 8.05, 8.05, 8.05, 8.05, 8.15, 8.05, 8.05, 8.05, 7.95, 8.05, 8.05],
  [5.0, 7.0, 7.3, 7.2, 7.2, 7.0,
    7.0, 6.9, 6.8, 6.5, 6.8, 6.5, 6.6, 6.4, 6.6, 6.9, 7.0, 7.0,
    7.0, 7.0, 7.0, 7.0, 7.0, 7.0, 7.0, 7.0, 7.0, 7.0, 7.0, 7.05,
    7.05, 7.05, 7.1, 7.1, 7.15, 7.1, 7.1, 7.0, 7.1, 7.0, 7.0, 7.0],
  [5.4, 7.4, 7.42, 7.45, 7.45, 7.45,
    7.45, 7.4, 7.45, 7.5, 7.45, 7.45, 7.5, 7.45, 7.4, 7.45, 7.45, 7.4,
    7.45, 7.45, 7.4, 7.45, 7.45, 7.45, 7.4, 7.45, 7.45, 7.45, 7.4, 7.45,
    7.45, 7.4, 7.45, 7.5, 7.45, 7.45, 7.4, 7.45, 7.45, 7.4, 7.4, 7.4],
  [5.4, 7.4, 7.52, 7.52, 7.52, 7.52,
    7.52, 7.52, 7.57, 7.52, 7.52, 7.57, 7.52, 7.52, 7.57, 7.52, 7.52, 7.52,
    7.52, 7.52, 7.57, 7.52, 7.52, 7.52, 7.57, 7.52, 7.52, 7.57, 7.52, 7.52,
    7.57, 7.52, 7.57, 7.62, 7.57, 7.52, 7.57, 7.57, 7.52, 7.57, 7.57, 7.62],
];

// ---------- corridor ----------
const P7_YTICKS = [1.5, 2.0, 2.5, 3.0, 3.5, 4.0];
const P7_MED = [
  [2.0, 2.5, 2.3, 2.5, 2.5, 2.5,
    2.6, 2.6, 2.7, 2.5, 2.6, 2.6, 2.7, 2.7, 2.8, 2.7, 2.8, 3.0,
    2.8, 2.9, 2.8, 3.0, 2.8, 2.9, 2.8, 3.0, 2.9, 2.8, 3.0, 3.1,
    3.2, 3.1, 2.9, 3.3, 3.0, 3.2, 3.0, 3.3, 3.5, 3.3, 3.6, 3.5],
  [2.5, 2.6, 2.4, 2.6, 2.5, 2.6,
    2.5, 2.5, 2.5, 2.4, 2.3, 2.2, 2.1, 2.2, 2.1, 2.2, 2.0, 2.0,
    2.1, 2.1, 2.2, 2.1, 2.2, 2.0, 2.2, 2.3, 2.3, 2.4, 2.4, 2.5,
    2.4, 2.3, 2.4, 2.5, 2.5, 2.4, 2.5, 2.4, 2.5, 2.4, 2.4, 2.4],
  [2.2, 2.3, 2.2, 2.3, 2.6, 2.6,
    2.6, 2.7, 2.6, 2.6, 2.6, 2.7, 2.6, 2.7, 2.6, 2.7, 2.6, 2.6,
    2.7, 2.7, 2.6, 2.8, 2.6, 2.7, 2.6, 2.7, 2.6, 2.7, 2.6, 2.6,
    2.6, 2.7, 2.6, 2.7, 2.6, 2.7, 2.6, 2.7, 2.6, 2.7, 2.7, 2.8],
  [2.6, 2.5, 2.4, 2.6, 2.6, 2.4,
    2.5, 2.5, 2.4, 2.4, 2.3, 2.4, 2.4, 2.4, 2.3, 2.3, 2.3, 2.2,
    2.2, 2.2, 2.3, 2.2, 2.3, 2.1, 2.1, 2.2, 2.3, 2.3, 2.4, 2.4,
    2.5, 2.4, 2.5, 2.4, 2.5, 2.5, 2.4, 2.5, 2.5, 2.4, 2.5, 2.4],
  [2.4, 2.3, 2.2, 2.5, 2.5, 2.5,
    2.6, 2.6, 2.6, 2.5, 2.6, 2.6, 2.6, 2.7, 2.6, 2.6, 2.7, 2.6,
    2.7, 2.6, 2.7, 2.6, 2.6, 2.6, 2.7, 2.6, 2.7, 2.6, 2.6, 2.6,
    2.6, 2.6, 2.6, 2.6, 2.6, 2.6, 2.6, 2.6, 2.6, 2.6, 2.6, 2.6],
];
const P7_LO = [
  [1.6, 2.2, 2.0, 2.2, 2.3, 2.3,
    2.4, 2.4, 2.5, 2.3, 2.4, 2.4, 2.5, 2.5, 2.5, 2.5, 2.5, 2.7,
    2.5, 2.6, 2.5, 2.7, 2.5, 2.6, 2.5, 2.7, 2.6, 2.5, 2.7, 2.7,
    2.8, 2.7, 2.5, 2.8, 2.5, 2.7, 2.5, 2.8, 2.9, 2.8, 3.0, 3.0],
  [2.1, 2.2, 2.1, 2.2, 2.1, 2.2,
    2.2, 2.2, 2.1, 2.0, 1.9, 1.8, 1.7, 1.8, 1.7, 1.8, 1.6, 1.5,
    1.7, 1.7, 1.8, 1.7, 1.8, 1.7, 1.8, 1.9, 1.9, 2.0, 2.0, 2.1,
    2.0, 1.9, 2.0, 2.1, 2.1, 2.0, 2.1, 2.0, 2.1, 2.0, 2.0, 2.1],
  [1.9, 2.1, 2.0, 2.1, 2.4, 2.4,
    2.45, 2.55, 2.45, 2.45, 2.45, 2.55, 2.45, 2.55, 2.45, 2.55, 2.45, 2.45,
    2.55, 2.55, 2.45, 2.6, 2.45, 2.55, 2.45, 2.55, 2.45, 2.55, 2.45, 2.45,
    2.45, 2.55, 2.45, 2.55, 2.45, 2.55, 2.45, 2.55, 2.45, 2.55, 2.55, 2.6],
  [2.3, 2.2, 2.1, 2.3, 2.3, 2.1,
    2.2, 2.2, 2.1, 2.1, 2.0, 2.1, 2.1, 2.1, 2.0, 2.0, 2.0, 1.9,
    1.9, 1.9, 2.0, 1.9, 2.0, 1.8, 1.8, 1.9, 2.0, 2.0, 2.1, 2.1,
    2.2, 2.1, 2.2, 2.1, 2.2, 2.2, 2.1, 2.2, 2.2, 2.1, 2.2, 2.1],
  [2.0, 1.8, 1.4, 1.6, 1.8, 1.6,
    2.2, 2.3, 2.3, 2.2, 2.3, 2.3, 2.3, 2.4, 2.3, 2.3, 2.4, 2.3,
    2.4, 2.3, 2.4, 2.3, 2.3, 2.3, 2.4, 2.3, 2.4, 2.3, 2.3, 2.3,
    2.3, 2.3, 2.3, 2.3, 2.3, 2.3, 2.3, 2.3, 2.3, 2.3, 2.3, 2.3],
];
const P7_HI = [
  [2.4, 2.8, 2.7, 2.8, 2.8, 2.8,
    2.8, 2.9, 3.0, 2.8, 2.9, 2.9, 3.0, 3.0, 3.1, 3.2, 3.2, 3.3,
    3.1, 3.2, 3.1, 3.4, 3.1, 3.2, 3.1, 3.4, 3.3, 3.2, 3.4, 3.6,
    3.6, 3.5, 3.4, 3.9, 3.5, 3.8, 3.5, 4.2, 3.9, 4.2, 4.1, 3.8],
  [2.8, 2.9, 2.8, 2.9, 2.9, 2.9,
    2.8, 2.8, 2.8, 2.7, 2.6, 2.5, 2.4, 2.5, 2.4, 2.5, 2.3, 2.3,
    2.4, 2.4, 2.5, 2.4, 2.5, 2.3, 2.5, 2.6, 2.6, 2.7, 2.7, 2.8,
    2.8, 2.7, 2.8, 2.9, 2.9, 2.8, 2.9, 2.8, 2.9, 2.8, 2.9, 3.2],
  [2.5, 2.6, 2.5, 2.6, 2.8, 2.8,
    2.8, 2.85, 2.8, 2.75, 2.75, 2.85, 2.8, 2.9, 2.75, 2.85, 2.75, 2.75,
    2.85, 2.85, 2.8, 2.95, 2.75, 2.85, 2.75, 2.85, 2.75, 2.85, 2.75, 2.75,
    2.75, 2.85, 2.75, 2.85, 2.75, 2.85, 2.75, 2.85, 2.8, 2.85, 2.9, 3.1],
  [2.8, 2.75, 2.65, 2.85, 2.85, 2.65,
    2.75, 2.75, 2.65, 2.65, 2.55, 2.65, 2.65, 2.65, 2.55, 2.55, 2.55, 2.45,
    2.45, 2.45, 2.55, 2.45, 2.55, 2.35, 2.35, 2.45, 2.55, 2.55, 2.65, 2.65,
    2.75, 2.65, 2.75, 2.65, 2.75, 2.75, 2.65, 2.75, 2.75, 2.65, 2.75, 2.65],
  [2.7, 2.6, 2.6, 2.8, 2.8, 2.8,
    2.8, 2.8, 2.8, 2.7, 2.8, 2.8, 2.8, 2.9, 2.8, 2.8, 2.9, 2.8,
    2.9, 2.8, 2.9, 2.8, 2.8, 2.8, 2.9, 2.8, 2.9, 2.8, 2.8, 2.8,
    2.8, 2.8, 2.8, 2.8, 2.8, 2.8, 2.8, 2.8, 2.8, 2.8, 2.8, 2.8],
];

// ---------- bane_vs_bane ----------
const P8_YTICKS = [10, 12, 14, 16, 18];
const P8_MED = [
  [10.5, 15.5, 16.5, 16.3, 16.8, 16.8,
    16.6, 16.5, 16.9, 17.2, 16.8, 16.9, 17.0, 16.8, 16.9, 16.8, 17.0, 16.9,
    16.8, 16.9, 17.0, 16.7, 16.9, 16.8, 17.0, 16.7, 16.8, 16.9, 16.7, 16.9,
    16.8, 16.9, 16.7, 16.9, 16.8, 16.9, 16.8, 17.0, 16.8, 16.9, 16.8, 16.9],
  [14.5, 14.0, 13.0, 12.8, 12.8, 14.0,
    15.5, 15.8, 16.2, 16.5, 16.6, 16.4, 16.9, 16.7, 16.8, 16.6, 16.9, 16.8,
    16.7, 16.6, 16.9, 16.5, 16.8, 16.7, 16.8, 16.4, 16.7, 16.9, 16.6, 16.8,
    16.6, 16.9, 16.5, 16.8, 16.9, 16.7, 16.6, 17.0, 16.8, 16.9, 16.7, 17.0],
  [14.0, 16.0, 15.3, 15.5, 15.2, 15.0,
    15.4, 15.5, 15.6, 15.9, 16.2, 16.3, 16.1, 16.2, 16.3, 16.4, 16.5, 16.6,
    16.6, 16.7, 16.5, 16.4, 16.6, 16.5, 16.6, 16.6, 16.5, 16.5, 16.6, 16.5,
    16.7, 16.5, 16.4, 16.6, 16.5, 16.4, 16.7, 16.6, 16.5, 16.4, 16.6, 16.8],
  [16.0, 16.8, 16.3, 16.5, 16.8, 16.3,
    16.8, 16.0, 13.8, 15.0, 16.3, 15.5, 16.8, 16.6, 17.0, 17.2, 17.1, 17.3,
    17.0, 16.8, 16.9, 16.7, 16.8, 16.6, 16.9, 16.6, 16.8, 16.5, 16.9, 16.7,
    16.8, 17.0, 16.6, 16.8, 16.5, 16.9, 17.0, 17.2, 16.8, 16.9, 16.8, 16.2],
  [15.5, 16.8, 16.9, 16.7, 16.9, 17.0,
    16.8, 16.9, 17.0, 16.9, 16.9, 17.0, 16.9, 16.8, 17.0, 16.9, 17.0, 17.1,
    17.0, 17.1, 17.0, 17.2, 17.0, 17.1, 16.9, 17.1, 17.0, 17.1, 17.0, 17.2,
    17.1, 17.0, 17.2, 17.1, 17.0, 17.2, 17.1, 17.2, 17.0, 17.1, 17.2, 17.0],
];
const P8_LO = [
  [10.2, 14.5, 15.8, 15.8, 16.2, 16.3,
    16.1, 16.0, 16.4, 16.7, 16.3, 16.4, 16.5, 16.3, 16.4, 16.3, 16.5, 16.4,
    16.3, 16.4, 16.5, 16.2, 16.4, 16.3, 16.5, 16.2, 16.3, 16.4, 16.2, 16.4,
    16.3, 16.4, 16.2, 16.4, 16.3, 16.4, 16.3, 16.5, 16.3, 16.4, 16.3, 16.4],
  [13.5, 12.5, 11.5, 11.5, 12.0, 13.0,
    14.5, 15.0, 15.5, 15.8, 16.0, 15.5, 16.2, 16.0, 15.0, 15.9, 16.2, 16.0,
    16.0, 15.9, 16.2, 15.6, 15.8, 16.0, 16.0, 15.5, 16.0, 16.2, 15.8, 16.0,
    15.5, 13.8, 15.2, 16.0, 15.5, 15.9, 15.8, 16.2, 15.5, 16.0, 15.6, 16.2],
  [13.0, 15.0, 14.5, 14.5, 14.5, 14.3,
    14.8, 14.9, 15.0, 15.3, 15.6, 15.7, 15.5, 15.5, 15.5, 15.8, 15.9, 15.5,
    16.0, 16.1, 15.9, 15.8, 16.0, 15.9, 16.0, 16.0, 15.9, 15.9, 16.0, 15.9,
    16.1, 15.9, 15.8, 16.0, 15.9, 15.8, 16.1, 16.0, 15.9, 15.8, 16.0, 16.2],
  [15.0, 16.0, 15.5, 15.5, 16.0, 15.5,
    15.5, 14.0, 11.0, 11.0, 13.0, 10.5, 12.5, 12.5, 15.5, 16.0, 16.0, 16.2,
    16.0, 15.8, 15.9, 15.7, 15.8, 15.6, 15.9, 15.6, 15.8, 15.5, 15.9, 15.7,
    15.8, 16.0, 15.5, 15.5, 15.0, 15.8, 16.0, 16.2, 15.8, 15.9, 15.5, 15.2],
  [14.5, 16.0, 16.1, 15.9, 16.1, 16.2,
    16.0, 16.1, 16.2, 16.1, 16.1, 16.2, 16.1, 16.0, 16.2, 16.1, 16.2, 16.3,
    16.2, 16.3, 16.2, 16.4, 16.2, 16.3, 16.1, 16.3, 16.2, 16.3, 16.2, 16.4,
    16.3, 16.2, 16.4, 16.3, 16.2, 16.4, 16.3, 16.4, 16.2, 16.3, 16.4, 16.2],
];
const P8_HI = [
  [11.0, 16.3, 17.2, 16.8, 17.3, 17.3,
    17.1, 17.0, 17.4, 17.7, 17.3, 17.4, 17.5, 17.3, 17.4, 17.3, 17.5, 17.4,
    17.3, 17.4, 17.5, 17.2, 17.4, 17.3, 17.5, 17.2, 17.3, 17.4, 17.2, 17.4,
    17.3, 17.4, 17.2, 17.4, 17.3, 17.4, 17.3, 17.5, 17.3, 17.4, 17.3, 17.4],
  [15.5, 15.5, 14.5, 14.0, 14.0, 15.0,
    16.5, 16.8, 17.0, 17.3, 17.5, 17.4, 17.8, 17.5, 17.5, 17.3, 17.6, 17.5,
    17.4, 17.3, 17.6, 17.3, 17.6, 17.4, 17.5, 17.3, 17.5, 17.7, 17.4, 17.6,
    17.5, 17.7, 17.4, 17.6, 17.8, 17.5, 17.5, 17.9, 17.7, 17.8, 17.6, 18.2],
  [15.0, 16.8, 16.2, 16.3, 16.0, 15.8,
    16.0, 16.1, 16.2, 16.5, 16.8, 16.9, 16.7, 16.8, 16.9, 17.0, 17.1, 17.2,
    17.2, 17.3, 17.1, 17.0, 17.2, 17.1, 17.2, 17.2, 17.1, 17.1, 17.2, 17.1,
    17.3, 17.1, 17.0, 17.2, 17.1, 17.0, 17.3, 17.2, 17.1, 17.0, 17.2, 17.4],
  [17.0, 17.5, 17.2, 17.3, 17.5, 17.2,
    17.5, 17.3, 17.0, 17.0, 17.2, 17.5, 17.6, 17.5, 17.8, 17.8, 18.5, 18.0,
    17.8, 17.6, 17.7, 17.5, 17.6, 17.4, 17.7, 17.4, 17.6, 17.3, 17.7, 17.5,
    17.6, 17.8, 17.4, 17.6, 17.3, 17.7, 17.8, 18.0, 17.6, 17.7, 17.6, 17.2],
  [17.2, 17.6, 17.7, 17.5, 17.7, 17.8,
    17.6, 17.7, 17.8, 17.7, 17.7, 17.8, 17.7, 17.6, 17.8, 17.7, 17.8, 17.9,
    17.8, 17.9, 17.8, 18.0, 17.8, 17.9, 17.7, 17.9, 17.8, 17.9, 17.8, 18.0,
    17.9, 17.8, 18.0, 17.9, 17.8, 18.0, 17.9, 18.0, 17.8, 17.9, 18.0, 17.8],
];

// ---------- so_many_baneling ----------
const P9_YTICKS = [7.5, 10.0, 12.5, 15.0, 17.5, 20.0];
const P9_MED = [
  [6.8, 6.5, 7.0, 7.8, 8.5, 9.0,
    9.8, 10.2, 11.0, 11.8, 12.0, 12.2, 12.2, 12.6, 12.8, 12.5, 12.9, 12.8,
    12.7, 12.9, 13.0, 12.9, 12.5, 13.1, 13.2, 13.0, 13.6, 13.2, 13.8, 13.6,
    13.9, 14.0, 14.4, 14.2, 14.0, 14.2, 13.9, 14.3, 14.4, 13.9, 14.2, 13.8],
  [7.0, 7.2, 7.3, 8.0, 12.0, 13.8,
    15.0, 15.5, 16.0, 17.0, 18.0, 17.5, 17.2, 18.0, 18.5, 17.0, 18.5, 19.5,
    19.2, 19.6, 19.5, 19.4, 19.7, 19.2, 19.6, 18.8, 19.7, 19.5, 19.8, 19.3,
    19.7, 19.4, 19.8, 19.2, 19.6, 18.5, 19.7, 19.5, 19.8, 19.6, 19.2, 19.7],
  [7.0, 7.5, 7.0, 6.8, 7.0, 6.8,
    7.0, 7.3, 7.0, 7.2, 6.9, 6.7, 7.3, 7.0, 6.9, 7.2, 7.1, 7.0,
    7.2, 7.1, 7.4, 7.2, 7.3, 7.5, 7.2, 7.3, 7.6, 7.3, 7.4, 7.6,
    7.8, 7.5, 7.6, 7.5, 7.4, 7.5, 7.5, 7.4, 7.3, 7.5, 7.2, 7.4],
  [7.5, 7.3, 7.0, 7.2, 6.8, 7.2,
    7.6, 7.3, 7.6, 7.8, 8.2, 8.8, 8.5, 8.8, 7.8, 8.5, 7.5, 8.0,
    7.6, 8.5, 8.0, 7.8, 8.2, 8.0, 8.8, 8.0, 8.5, 7.5, 9.5, 8.2,
    8.8, 8.3, 9.0, 8.5, 9.2, 8.8, 9.5, 9.0, 9.3, 9.0, 9.5, 9.8],
  [8.0, 7.5, 7.0, 7.5, 8.0, 8.5,
    9.0, 9.5, 8.5, 9.2, 9.8, 10.5, 9.5, 10.2, 9.8, 10.5, 10.8, 10.5,
    10.3, 10.6, 10.2, 10.5, 10.0, 10.8, 11.0, 10.5, 10.7, 10.2, 11.2, 13.0,
    11.8, 10.5, 11.0, 12.0, 11.5, 11.0, 11.2, 10.8, 10.5, 11.0, 11.5, 10.5],
];
const P9_LO = [
  [6.3, 6.0, 6.3, 7.0, 7.6, 8.0,
    8.8, 9.2, 10.0, 10.8, 11.0, 11.2, 11.2, 11.6, 11.8, 11.5, 11.9, 11.8,
    11.7, 11.9, 12.0, 11.9, 11.5, 12.0, 12.2, 12.0, 12.6, 12.2, 12.8, 12.6,
    12.9, 13.0, 13.4, 13.2, 13.0, 13.2, 12.9, 13.3, 13.4, 12.9, 13.0, 12.5],
  [6.5, 6.8, 6.8, 7.0, 10.0, 12.0,
    13.5, 14.0, 14.5, 15.5, 16.5, 16.0, 15.5, 16.5, 15.5, 16.0, 17.0, 18.0,
    17.5, 18.5, 18.0, 18.2, 18.5, 17.5, 18.5, 17.5, 18.5, 18.0, 18.8, 17.8,
    18.5, 18.0, 18.8, 17.5, 18.5, 17.2, 18.8, 18.2, 18.5, 18.5, 17.8, 18.8],
  [6.4, 6.9, 6.4, 6.2, 6.4, 6.2,
    6.4, 6.7, 6.4, 6.6, 6.3, 6.1, 6.7, 6.4, 6.3, 6.6, 6.5, 6.4,
    6.6, 6.5, 6.8, 6.6, 6.7, 6.9, 6.6, 6.7, 7.0, 6.7, 6.8, 7.0,
    7.2, 6.9, 7.0, 6.9, 6.8, 6.9, 6.9, 6.8, 6.7, 6.9, 6.6, 6.8],
  [6.5, 6.3, 6.2, 6.3, 6.0, 6.3,
    6.5, 6.3, 6.5, 6.7, 7.0, 7.5, 7.3, 7.5, 6.8, 7.3, 6.6, 7.0,
    6.6, 7.3, 7.0, 6.8, 7.1, 6.9, 7.6, 7.0, 7.3, 6.6, 8.2, 7.1,
    7.6, 7.2, 7.8, 7.4, 8.0, 7.7, 8.2, 7.8, 8.1, 7.8, 8.2, 8.5],
  [7.0, 6.5, 6.2, 6.5, 6.8, 7.2,
    7.5, 8.0, 7.0, 7.7, 8.3, 9.0, 8.0, 8.7, 8.3, 9.0, 9.3, 9.0,
    8.8, 9.1, 8.7, 9.0, 8.5, 9.3, 9.5, 9.0, 9.2, 8.7, 9.7, 11.0,
    10.0, 8.8, 9.3, 10.2, 9.8, 9.3, 9.5, 9.1, 8.8, 9.3, 9.8, 8.8],
];
const P9_HI = [
  [7.3, 7.0, 7.8, 8.6, 9.4, 10.0,
    10.8, 11.2, 12.2, 12.8, 13.2, 13.2, 13.3, 13.6, 13.8, 13.5, 13.9, 13.8,
    13.7, 14.0, 14.2, 14.0, 13.6, 14.3, 14.3, 14.1, 14.6, 14.3, 14.8, 14.6,
    14.9, 15.0, 15.2, 15.0, 15.0, 15.1, 14.9, 15.2, 15.3, 15.0, 17.3, 14.8],
  [7.5, 7.8, 8.0, 9.5, 13.5, 15.0,
    16.5, 17.0, 17.5, 18.5, 19.5, 20.0, 19.0, 19.5, 19.8, 19.5, 19.8, 20.0,
    20.0, 20.0, 20.0, 20.0, 20.0, 20.0, 20.0, 20.0, 20.0, 20.0, 20.0, 20.0,
    20.0, 20.0, 20.0, 20.0, 20.0, 20.0, 20.0, 20.0, 20.0, 20.0, 20.0, 20.0],
  [7.6, 8.1, 7.6, 7.4, 7.6, 7.4,
    7.6, 7.9, 7.6, 7.8, 7.5, 7.3, 7.9, 7.6, 7.5, 7.8, 7.7, 7.6,
    7.8, 7.7, 8.0, 7.8, 7.9, 8.1, 7.8, 7.9, 8.2, 7.9, 8.0, 8.2,
    8.4, 8.1, 8.2, 8.1, 8.0, 8.1, 8.1, 8.0, 7.9, 8.1, 7.8, 8.0],
  [8.5, 8.3, 8.0, 8.2, 7.8, 8.2,
    8.7, 8.4, 8.8, 9.0, 9.5, 10.2, 9.8, 10.2, 9.0, 9.8, 8.7, 9.2,
    8.8, 9.8, 9.2, 9.0, 9.4, 9.2, 10.1, 9.2, 9.8, 8.7, 10.8, 9.4,
    10.2, 9.5, 10.3, 9.8, 10.5, 10.0, 10.8, 10.2, 10.6, 10.3, 10.8, 11.2],
  [9.0, 8.5, 8.0, 8.5, 9.2, 9.8,
    10.5, 11.0, 10.0, 10.7, 11.3, 12.0, 11.0, 11.7, 11.3, 12.0, 12.3, 12.0,
    11.8, 12.1, 11.7, 12.0, 11.5, 12.3, 12.5, 12.0, 12.2, 11.7, 12.7, 14.5,
    13.3, 12.2, 12.7, 15.3, 13.2, 12.7, 12.9, 12.5, 12.2, 12.7, 13.2, 12.2],
];

// ---------- 2c_vs_64zg ----------
const P10_YTICKS = [8, 10, 12, 14, 16, 18];
const P10_MED = [
  [11.0, 11.3, 11.0, 11.5, 11.4, 11.8,
    12.5, 13.0, 13.2, 13.0, 13.3, 13.5, 13.6, 13.5, 13.7, 13.5, 13.8, 13.9,
    13.8, 14.5, 14.8, 14.5, 14.3, 15.2, 14.7, 14.5, 14.8, 14.5, 15.2, 15.8,
    16.0, 15.7, 15.9, 15.3, 15.8, 16.0, 16.2, 15.8, 16.4, 16.1, 16.5, 16.3],
  [11.5, 11.2, 11.0, 11.3, 11.0, 11.5,
    12.0, 13.0, 13.5, 13.0, 13.2, 13.5, 14.0, 14.3, 14.5, 14.6, 15.0, 14.8,
    14.8, 14.7, 15.0, 14.8, 14.6, 14.8, 14.9, 14.6, 14.8, 14.5, 14.7, 14.9,
    14.8, 15.0, 15.0, 15.2, 15.1, 15.3, 15.1, 15.4, 15.2, 15.0, 15.2, 15.2],
  [11.0, 10.8, 11.0, 11.2, 10.5, 10.0,
    9.0, 9.1, 9.0, 9.0, 8.8, 9.0, 9.1, 9.1, 9.2, 9.2, 9.3, 9.5,
    9.6, 9.4, 9.8, 9.6, 10.0, 10.5, 9.9, 9.6, 9.7, 9.5, 9.4, 9.8,
    10.0, 9.8, 9.6, 9.8, 9.5, 9.7, 9.8, 9.6, 9.8, 9.7, 10.0, 9.8],
  [11.0, 11.5, 11.0, 11.2, 10.8, 11.0,
    11.3, 11.2, 11.4, 11.1, 11.3, 11.5, 11.0, 11.2, 11.0, 11.1, 10.9, 10.9,
    10.9, 10.8, 10.9, 10.9, 10.9, 10.8, 10.8, 10.8, 10.9, 11.0, 10.9, 11.0,
    11.1, 11.0, 11.0, 10.9, 11.0, 10.9, 10.8, 10.9, 10.8, 10.9, 10.8, 10.9],
  [11.5, 11.0, 10.2, 10.8, 10.5, 10.8,
    10.0, 10.5, 10.8, 10.3, 10.5, 10.0, 10.3, 10.8, 10.0, 10.5, 9.8, 10.4,
    10.2, 9.8, 11.0, 12.5, 11.5, 13.5, 11.5, 12.0, 11.0, 12.5, 11.0, 13.5,
    11.0, 12.5, 13.0, 12.0, 13.5, 12.0, 13.5, 14.0, 13.2, 14.0, 13.5, 15.0],
];
const P10_LO = [
  [10.3, 10.6, 10.5, 10.8, 10.8, 11.2,
    11.8, 12.3, 12.5, 12.3, 12.6, 12.7, 12.8, 12.8, 12.9, 12.8, 13.0, 13.1,
    13.0, 13.5, 13.7, 13.4, 13.2, 14.0, 13.6, 13.3, 13.6, 13.3, 14.0, 14.6,
    14.7, 14.4, 14.6, 14.0, 14.5, 14.7, 14.9, 14.5, 15.0, 14.8, 15.2, 15.0],
  [10.9, 10.6, 10.4, 10.7, 10.4, 10.9,
    11.3, 12.2, 12.7, 12.3, 12.5, 12.8, 13.3, 13.6, 13.8, 13.9, 14.3, 14.1,
    14.1, 14.0, 14.3, 14.1, 13.9, 14.1, 14.2, 13.9, 14.1, 13.8, 14.0, 14.2,
    14.1, 14.3, 14.3, 14.5, 14.4, 14.6, 14.4, 14.7, 14.5, 14.3, 14.5, 14.5],
  [10.5, 10.3, 10.5, 10.7, 10.0, 9.5,
    8.5, 8.6, 8.5, 8.5, 8.3, 8.5, 8.6, 8.6, 8.7, 8.7, 8.8, 9.0,
    9.1, 8.9, 9.3, 9.1, 9.5, 9.8, 9.4, 9.1, 9.2, 9.0, 8.9, 9.3,
    9.5, 9.0, 9.1, 9.3, 9.0, 9.2, 9.3, 9.1, 9.3, 9.2, 9.4, 9.2],
  [10.6, 11.1, 10.6, 10.8, 10.4, 10.6,
    10.9, 10.8, 11.0, 10.7, 10.9, 11.1, 10.6, 10.8, 10.6, 10.7, 10.5, 10.5,
    10.5, 10.4, 10.5, 10.5, 10.5, 10.4, 10.4, 10.4, 10.5, 10.6, 10.5, 10.6,
    10.7, 10.6, 10.6, 10.5, 10.6, 10.5, 10.4, 10.5, 10.4, 10.5, 10.4, 10.5],
  [10.5, 10.0, 9.5, 9.8, 9.5, 9.8,
    9.0, 9.3, 9.5, 9.2, 9.3, 9.0, 9.2, 9.5, 9.0, 9.3, 8.8, 9.3,
    9.2, 9.0, 9.8, 10.5, 10.0, 11.0, 10.0, 10.5, 9.8, 10.5, 9.8, 11.0,
    10.0, 10.5, 11.0, 10.5, 11.5, 10.5, 11.5, 12.0, 11.5, 12.0, 11.5, 12.5],
];
const P10_HI = [
  [11.6, 12.0, 11.7, 12.2, 12.0, 12.5,
    13.3, 13.8, 14.0, 13.8, 14.2, 14.5, 15.0, 15.5, 16.0, 15.5, 16.5, 16.8,
    16.5, 17.2, 17.5, 16.8, 16.5, 17.3, 16.8, 16.5, 17.0, 16.8, 17.3, 17.5,
    17.5, 17.2, 17.5, 17.0, 17.5, 17.8, 17.8, 17.5, 18.0, 17.8, 18.0, 17.3],
  [12.2, 11.8, 11.6, 11.9, 11.7, 12.3,
    13.5, 14.2, 14.3, 13.8, 14.0, 14.2, 14.8, 15.0, 15.2, 15.3, 15.7, 15.5,
    15.5, 15.4, 15.7, 15.5, 15.3, 15.5, 15.6, 15.3, 15.5, 15.2, 15.4, 15.6,
    15.5, 15.7, 15.7, 15.9, 15.8, 16.0, 15.8, 16.1, 15.9, 15.7, 15.9, 16.0],
  [11.5, 11.3, 11.5, 11.7, 11.0, 10.5,
    9.5, 9.6, 9.5, 9.5, 9.3, 9.5, 9.6, 9.6, 9.7, 9.7, 9.8, 10.0,
    10.1, 9.9, 10.3, 10.1, 10.5, 11.5, 10.4, 10.1, 10.2, 10.0, 9.9, 10.3,
    10.5, 10.5, 10.1, 10.3, 10.0, 10.2, 10.3, 10.1, 10.3, 10.2, 10.6, 10.4],
  [11.4, 11.9, 11.4, 11.6, 11.2, 11.4,
    11.7, 11.6, 11.8, 11.5, 11.7, 11.9, 11.4, 11.6, 11.4, 11.5, 11.3, 11.3,
    11.3, 11.2, 11.3, 11.3, 11.3, 11.2, 11.2, 11.2, 11.3, 11.4, 11.3, 11.4,
    11.5, 11.4, 11.4, 11.3, 11.4, 11.3, 11.2, 11.3, 11.2, 11.3, 11.2, 11.3],
  [12.0, 11.8, 11.5, 11.8, 11.5, 11.8,
    11.2, 11.5, 11.8, 11.5, 11.8, 11.5, 12.0, 12.5, 12.5, 13.5, 12.5, 13.0,
    12.0, 11.5, 12.5, 14.0, 13.5, 15.0, 13.5, 14.0, 13.0, 14.5, 13.5, 15.5,
    14.0, 15.0, 15.5, 15.0, 16.0, 15.0, 16.0, 16.5, 16.0, 16.5, 16.0, 16.5],
];

// ---------- 1c3s5z ----------
const P11_YTICKS = [5, 10, 15, 20];
const P11_MED = [
  [7.0, 8.0, 9.0, 9.5, 13.0, 15.0,
    17.0, 17.5, 18.0, 18.3, 18.0, 18.8, 18.5, 18.7, 19.0, 19.1, 18.6, 18.8,
    18.7, 18.9, 19.0, 19.1, 18.8, 19.0, 18.8, 19.0, 18.9, 19.0, 18.2, 19.0,
    19.1, 19.0, 19.2, 19.1, 19.0, 19.3, 19.1, 19.3, 19.2, 19.4, 19.3, 19.2],
  [5.5, 7.5, 9.0, 10.0, 11.5, 12.0,
    12.8, 13.0, 13.5, 13.0, 14.0, 13.8, 14.5, 14.8, 15.2, 14.5, 15.5, 14.8,
    15.2, 15.0, 15.8, 15.2, 16.0, 15.5, 15.8, 15.0, 16.5, 15.5, 16.0, 15.5,
    15.8, 16.2, 15.5, 16.8, 15.8, 16.5, 15.5, 16.5, 16.0, 15.5, 16.5, 16.8],
  [3.5, 4.5, 4.5, 5.5, 5.0, 6.5,
    7.0, 8.5, 9.0, 9.5, 10.0, 10.5, 11.2, 10.5, 9.0, 10.0, 10.8, 10.0,
    10.5, 11.0, 11.2, 10.8, 11.5, 11.0, 11.8, 11.0, 11.5, 11.0, 10.8, 11.0,
    10.5, 11.0, 11.5, 11.0, 11.2, 11.0, 10.8, 11.0, 10.5, 10.2, 10.0, 9.8],
  [7.0, 7.5, 8.5, 9.0, 10.0, 10.8,
    11.0, 11.0, 11.3, 11.5, 11.8, 11.5, 11.8, 11.8, 12.0, 11.8, 12.2, 12.0,
    12.3, 12.0, 12.2, 12.0, 12.3, 12.5, 12.2, 12.6, 12.4, 12.5, 12.3, 12.6,
    12.4, 12.5, 12.8, 12.9, 13.0, 13.2, 13.0, 13.3, 13.5, 13.3, 13.2, 13.0],
  [6.0, 6.5, 7.0, 8.0, 7.5, 8.0,
    7.8, 8.5, 9.0, 10.0, 10.5, 10.5, 11.0, 11.0, 10.5, 11.0, 11.2, 11.5,
    12.0, 12.0, 12.2, 12.5, 12.0, 12.5, 12.8, 13.0, 12.8, 13.0, 13.0, 13.2,
    13.5, 13.5, 14.0, 14.2, 14.0, 13.5, 13.8, 13.5, 13.0, 13.2, 13.8, 14.0],
];
const P11_LO = [
  [6.0, 6.5, 7.5, 8.5, 11.5, 13.5,
    16.0, 17.0, 17.5, 17.8, 17.3, 18.3, 18.0, 18.2, 18.5, 18.6, 18.1, 18.3,
    18.2, 18.4, 18.5, 18.6, 18.3, 18.5, 18.3, 18.5, 18.4, 18.5, 17.6, 18.5,
    18.6, 18.5, 18.7, 18.6, 18.5, 18.8, 18.6, 18.8, 18.7, 18.9, 18.8, 18.7],
  [4.5, 6.0, 7.5, 8.5, 10.0, 10.5,
    11.3, 11.5, 12.0, 11.5, 12.5, 12.3, 13.0, 13.3, 13.7, 13.0, 14.0, 13.3,
    13.7, 13.5, 14.3, 13.7, 14.5, 14.0, 14.3, 13.5, 15.0, 14.0, 14.5, 14.0,
    14.3, 14.7, 14.0, 15.3, 14.3, 15.0, 14.0, 15.0, 14.5, 14.0, 15.0, 15.3],
  [3.0, 3.5, 3.5, 4.0, 3.8, 4.5,
    5.0, 6.0, 6.5, 7.0, 7.5, 7.8, 8.0, 7.5, 7.0, 7.5, 7.5, 7.0,
    7.2, 7.5, 7.0, 7.0, 7.5, 6.8, 6.5, 7.0, 7.0, 7.5, 7.0, 7.2,
    6.5, 7.0, 7.0, 7.0, 6.5, 6.8, 6.0, 6.5, 6.0, 5.5, 5.8, 6.0],
  [6.0, 6.5, 7.5, 8.0, 9.0, 9.8,
    10.0, 10.0, 10.3, 10.5, 10.8, 10.5, 10.8, 10.8, 11.0, 10.8, 11.2, 11.0,
    11.3, 11.0, 11.2, 11.0, 11.3, 11.5, 11.2, 11.6, 11.4, 11.5, 11.3, 11.6,
    11.4, 11.5, 11.8, 11.9, 12.0, 12.2, 12.0, 12.3, 12.5, 12.3, 12.2, 12.0],
  [5.0, 5.0, 5.5, 6.0, 5.5, 6.0,
    5.5, 6.0, 5.5, 8.0, 8.5, 8.5, 9.0, 9.5, 9.0, 9.5, 9.8, 10.0,
    10.5, 10.5, 10.8, 11.0, 10.5, 11.0, 11.3, 11.5, 11.3, 11.5, 11.5, 11.7,
    12.0, 12.0, 12.5, 12.7, 12.5, 12.0, 12.3, 12.0, 11.5, 11.7, 12.3, 12.5],
];
const P11_HI = [
  [8.0, 9.5, 10.5, 11.0, 14.0, 16.0,
    18.0, 18.2, 18.6, 19.0, 18.8, 19.3, 19.0, 19.2, 19.6, 19.5, 19.1, 19.3,
    19.2, 19.4, 19.5, 19.6, 19.3, 19.5, 19.3, 19.5, 19.4, 19.5, 18.8, 19.5,
    19.6, 19.5, 19.7, 19.6, 19.5, 19.8, 19.6, 19.8, 19.7, 19.9, 19.8, 19.7],
  [6.5, 9.0, 10.5, 11.5, 13.0, 13.5,
    14.3, 14.5, 15.0, 14.5, 15.5, 15.3, 16.0, 16.3, 16.7, 16.0, 17.0, 16.3,
    16.7, 16.5, 17.3, 16.7, 17.5, 17.0, 17.3, 16.5, 18.0, 17.0, 17.5, 17.0,
    17.3, 17.7, 17.0, 18.3, 17.3, 18.0, 17.0, 18.0, 17.5, 17.0, 18.0, 18.3],
  [4.5, 5.5, 5.8, 6.5, 6.5, 8.0,
    8.5, 10.0, 10.5, 11.0, 11.5, 12.5, 12.8, 12.5, 12.0, 12.5, 13.0, 12.0,
    12.5, 12.8, 13.0, 12.5, 13.0, 12.8, 13.0, 12.5, 12.8, 12.5, 12.5, 12.5,
    12.5, 12.8, 13.0, 12.5, 13.0, 12.5, 12.5, 12.8, 12.5, 12.5, 12.5, 12.5],
  [8.0, 8.5, 9.5, 10.0, 11.0, 11.8,
    12.0, 12.0, 12.3, 12.5, 12.8, 12.5, 12.8, 12.8, 13.0, 12.8, 13.2, 13.0,
    13.3, 13.0, 13.2, 13.0, 13.3, 13.5, 13.2, 13.6, 13.4, 13.5, 13.3, 13.6,
    13.4, 13.5, 13.8, 13.9, 14.0, 14.2, 14.0, 14.3, 14.5, 14.3, 14.2, 14.0],
  [7.0, 8.0, 8.5, 9.5, 9.0, 9.5,
    9.5, 10.5, 11.0, 11.5, 12.0, 12.0, 12.5, 12.5, 12.0, 12.5, 12.8, 13.0,
    13.5, 13.5, 13.7, 14.0, 13.5, 14.0, 14.3, 14.5, 14.3, 14.5, 14.5, 14.7,
    15.0, 15.0, 15.5, 15.7, 15.5, 15.0, 15.3, 15.0, 14.5, 14.7, 15.3, 15.5],
];

// panel layout: [left, top, right, bottom] of the axes in page pixels
const PANELS = [
  { title: '2m_vs_1z', med: P1_MED, lo: P1_LO, hi: P1_HI, yTicks: P1_YTICKS, yDomain: [-0.25, 5.625], yFmt: 'd', box: [51.6, 24.7, 503.4, 203.3], yLabelX: 23.6 },
  { title: '2s_vs_1sc', med: P2_MED, lo: P2_LO, hi: P2_HI, yTicks: P2_YTICKS, yDomain: [-0.94, 21.24], yFmt: 'd', box: [596.8, 24.7, 1040.5, 203.3], yLabelX: 561 },
  { title: '3s_vs_3z', med: P3_MED, lo: P3_LO, hi: P3_HI, yTicks: P3_YTICKS, yDomain: [-0.41, 10.7], yFmt: 'd', box: [59.4, 315, 503.4, 493.3], yLabelX: 23.6 },
  { title: '3s_vs_4z', med: P4_MED, lo: P4_LO, hi: P4_HI, yTicks: P4_YTICKS, yDomain: [-0.27, 6.58], yFmt: 'd', box: [589, 315, 1040.5, 493.3], yLabelX: 561 },
  { title: '3s_vs_5z', med: P5_MED, lo: P5_LO, hi: P5_HI, yTicks: P5_YTICKS, yDomain: [-0.2, 4.72], yFmt: 'd', box: [51.6, 607, 503.4, 785.3], yLabelX: 23.6 },
  { title: '6h_vs_8z', med: P6_MED, lo: P6_LO, hi: P6_HI, yTicks: P6_YTICKS, yDomain: [2.34, 9.57], yFmt: 'd', box: [589, 607, 1040.5, 785.3], yLabelX: 561 },
  { title: 'corridor', med: P7_MED, lo: P7_LO, hi: P7_HI, yTicks: P7_YTICKS, yDomain: [1.23, 4.4], yFmt: '.1f', box: [63.1, 898.3, 503.4, 1077], yLabelX: 23.6 },
  { title: 'bane_vs_bane', med: P8_MED, lo: P8_LO, hi: P8_HI, yTicks: P8_YTICKS, yDomain: [9.74, 19.0], yFmt: 'd', box: [596.8, 898.3, 1040.5, 1077], yLabelX: 561 },
  { title: 'so_many_baneling', med: P9_MED, lo: P9_LO, hi: P9_HI, yTicks: P9_YTICKS, yDomain: [5.14, 20.79], yFmt: '.1f', box: [59.4, 1189, 503.4, 1368], yLabelX: 15.2 },
  { title: '2c_vs_64zg', med: P10_MED, lo: P10_LO, hi: P10_HI, yTicks: P10_YTICKS, yDomain: [7.77, 18.78], yFmt: 'd', box: [596.8, 1189, 1040.5, 1368], yLabelX: 561 },
  { title: '1c3s5z', med: P11_MED, lo: P11_LO, hi: P11_HI, yTicks: P11_YTICKS, yDomain: [1.93, 20.85], yFmt: 'd', box: [339.3, 1480.3, 771.7, 1659], yLabelX: 304.3 },
];

const FONT = 'DejaVu Sans, Verdana, sans-serif';

function Panel({ p, id }: { p: any; id: number }) {
  const [x0, y0, x1, y1] = p.box;
  const x = d3.scaleLinear().domain([0, 2]).range([x0, x1]);
  const y = d3.scaleLinear().domain(p.yDomain).range([y1, y0]);
  const idx = T.map((_, i) => i);
  const fmtY = d3.format(p.yFmt);
  const fmtX = d3.format('.2f');
  const clipId = `clip-${id}`;
  const lgW = 126, lgH = 92;
  const lgX = x1 - 6 - lgW;
  const lgY = y1 - 6.5 - lgH;
  const midX = (x0 + x1) / 2;
  const midY = (y0 + y1) / 2;

  return (
    <g>
      <defs>
        <clipPath id={clipId}>
          <rect x={x0} y={y0} width={x1 - x0} height={y1 - y0} />
        </clipPath>
      </defs>
      {/* grid */}
      <g stroke="#b0b0b0" strokeOpacity={0.35} strokeWidth={0.8}>
        {X_TICKS.map(t => <line key={'gx' + t} x1={x(t)} x2={x(t)} y1={y0} y2={y1} />)}
        {p.yTicks.map((t: number) => <line key={'gy' + t} x1={x0} x2={x1} y1={y(t)} y2={y(t)} />)}
      </g>
      {/* series: band then median line */}
      <g clipPath={`url(#${clipId})`}>
        {SERIES.map((s, k) => {
          const area = d3.area<number>()
            .x(i => x(T[i]))
            .y0(i => y(p.lo[k][i]))
            .y1(i => y(p.hi[k][i]))
            .defined(i => p.lo[k][i] != null && p.hi[k][i] != null);
          const line = d3.line<number>()
            .x(i => x(T[i]))
            .y(i => y(p.med[k][i]))
            .defined(i => p.med[k][i] != null);
          return (
            <g key={s}>
              <path d={area(idx) || ''} fill={COLORS[k]} fillOpacity={0.3} stroke="none" />
              <path d={line(idx) || ''} fill="none" stroke={COLORS[k]} strokeOpacity={0.65}
                strokeWidth={1.5} strokeLinejoin="round" />
            </g>
          );
        })}
      </g>
      {/* spines */}
      <rect x={x0} y={y0} width={x1 - x0} height={y1 - y0} fill="none" stroke="#000" strokeWidth={0.8} />
      {/* ticks and labels */}
      <g fontFamily={FONT} fontSize={11.5} fill="#000">
        {X_TICKS.map(t => (
          <g key={'tx' + t}>
            <line x1={x(t)} x2={x(t)} y1={y1} y2={y1 + 3.5} stroke="#000" strokeWidth={0.8} />
            <text x={x(t)} y={y1 + 18} textAnchor="middle">{fmtX(t)}</text>
          </g>
        ))}
        {p.yTicks.map((t: number) => (
          <g key={'ty' + t}>
            <line x1={x0 - 3.5} x2={x0} y1={y(t)} y2={y(t)} stroke="#000" strokeWidth={0.8} />
            <text x={x0 - 7} y={y(t) + 4.2} textAnchor="end">{fmtY(t)}</text>
          </g>
        ))}
        <text x={midX} y={y1 + 34} textAnchor="middle">T (mil)</text>
        <text transform={`translate(${p.yLabelX + 4},${midY}) rotate(-90)`} textAnchor="middle">Median Test Return</text>
        <text x={midX} y={y0 - 6.4} textAnchor="middle" fontSize={13.8}>{p.title}</text>
      </g>
      {/* legend */}
      <g fontFamily={FONT} fontSize={11.5}>
        <rect x={lgX} y={lgY} width={lgW} height={lgH} rx={2.5} fill="#fff" fillOpacity={0.8}
          stroke="#cccccc" strokeWidth={0.8} />
        {SERIES.map((s, k) => {
          const cy = lgY + 10 + k * 17.75;
          return (
            <g key={'lg' + s}>
              <line x1={lgX + 4} x2={lgX + 29} y1={cy} y2={cy} stroke={COLORS[k]} strokeOpacity={0.65} strokeWidth={1.5} />
              <text x={lgX + 37.5} y={cy + 4.2} fill="#000">{s}</text>
            </g>
          );
        })}
      </g>
    </g>
  );
}

export default function App() {
  return (
    <svg width={1058} height={1699} viewBox="0 0 1058 1699"
      style={{ position: 'absolute', left: 0, top: 0, background: '#fff' }}>
      <rect x={0} y={0} width={1058} height={1699} fill="#fff" />
      {PANELS.map((p, i) => <Panel key={p.title} p={p} id={i} />)}
    </svg>
  );
}
